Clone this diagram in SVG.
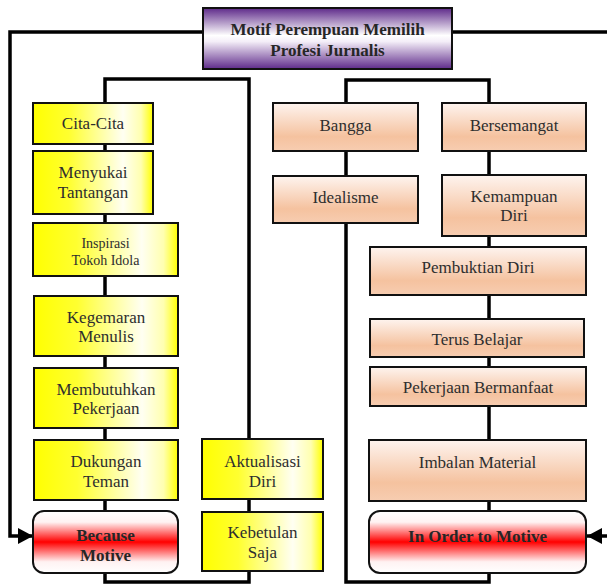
<svg xmlns="http://www.w3.org/2000/svg" width="607" height="584" viewBox="0 0 607 584">
<defs>
<linearGradient id="gPurple" x1="0" y1="0" x2="0" y2="1">
<stop offset="0" stop-color="#5e2a8a"/>
<stop offset="0.45" stop-color="#ffffff"/>
<stop offset="0.55" stop-color="#f4eef8"/>
<stop offset="1" stop-color="#5e2a8a"/>
</linearGradient>
<linearGradient id="gYellow" x1="0" y1="0" x2="1" y2="0">
<stop offset="0" stop-color="#ffff00"/>
<stop offset="0.3" stop-color="#ffff30"/>
<stop offset="0.75" stop-color="#fffff2"/>
<stop offset="0.9" stop-color="#ffffb0"/>
<stop offset="1" stop-color="#ffff00"/>
</linearGradient>
<linearGradient id="gPeach" x1="0" y1="0" x2="0" y2="1">
<stop offset="0" stop-color="#fef4ef"/>
<stop offset="0.7" stop-color="#f5c29f"/>
<stop offset="1" stop-color="#f7cdb1"/>
</linearGradient>
<linearGradient id="gRed" x1="0" y1="0" x2="0" y2="1">
<stop offset="0" stop-color="#ffffff"/>
<stop offset="0.18" stop-color="#fff2f2"/>
<stop offset="0.5" stop-color="#ff0000"/>
<stop offset="0.82" stop-color="#fff2f2"/>
<stop offset="1" stop-color="#ffffff"/>
</linearGradient>
<marker id="arr" markerWidth="16" markerHeight="16" refX="15" refY="8" orient="auto" markerUnits="userSpaceOnUse">
<path d="M0,0 L15,8 L0,16 Z" fill="#000"/>
</marker>
</defs>
<style>
.ln{fill:none;stroke:#000;stroke-width:3.5}
.box{stroke:#111;stroke-width:2}
.y{fill:url(#gYellow)}
.p{fill:url(#gPeach)}
.r{fill:url(#gRed)}
.t{fill:url(#gPurple)}
text{font-family:"Liberation Serif","Times New Roman",serif;font-size:17px;fill:#2e2e2e;text-anchor:middle}
.b{font-weight:bold;fill:#262626}
.s{font-size:14px}
</style>
<g id="connectors">
<path class="ln" d="M203,32 H10 V536 H33" marker-end="url(#arr)"/>
<path class="ln" d="M452,32 H607"/>
<path class="ln" d="M607,536 H587" marker-end="url(#arr)"/>
<rect class="ln" x="105" y="79" width="144" height="503"/>
<rect class="ln" x="346" y="80" width="143" height="502"/>
</g>
<g id="title"><rect class="box t" x="203" y="8" width="249" height="61"/><text class="b" x="327.5" y="35">Motif Perempuan Memilih</text><text class="b" x="327.5" y="56">Profesi Jurnalis</text></g>
<g id="cita"><rect class="box y" x="33" y="103" width="120" height="41"/><text x="93" y="129">Cita-Cita</text></g>
<g id="menyukai"><rect class="box y" x="33" y="151" width="120" height="63"/><text x="93" y="178">Menyukai</text><text x="93" y="198">Tantangan</text></g>
<g id="inspirasi"><rect class="box y" x="33" y="223" width="145" height="53"/><text class="s" x="105.5" y="248">Inspirasi</text><text class="s" x="105.5" y="265">Tokoh Idola</text></g>
<g id="kegemaran"><rect class="box y" x="34" y="296" width="144" height="60"/><text x="106" y="323">Kegemaran</text><text x="106" y="342">Menulis</text></g>
<g id="membutuhkan"><rect class="box y" x="34" y="368" width="144" height="60"/><text x="106" y="395">Membutuhkan</text><text x="106" y="414">Pekerjaan</text></g>
<g id="dukungan"><rect class="box y" x="34" y="440" width="144" height="60"/><text x="106" y="467">Dukungan</text><text x="106" y="487">Teman</text></g>
<g id="because"><rect class="box r" x="33" y="511" width="145" height="62" rx="11"/><text class="b" x="105.5" y="541">Because</text><text class="b" x="105.5" y="561">Motive</text></g>
<g id="aktualisasi"><rect class="box y" x="202" y="439" width="121" height="60"/><text x="262.5" y="467">Aktualisasi</text><text x="262.5" y="487">Diri</text></g>
<g id="kebetulan"><rect class="box y" x="202" y="512" width="121" height="59"/><text x="262.5" y="538">Kebetulan</text><text x="262.5" y="558">Saja</text></g>
<g id="bangga"><rect class="box p" x="273" y="103" width="145" height="48"/><text x="345.5" y="131">Bangga</text></g>
<g id="bersemangat"><rect class="box p" x="442" y="103" width="144" height="48"/><text x="514" y="131">Bersemangat</text></g>
<g id="idealisme"><rect class="box p" x="273" y="176" width="145" height="47"/><text x="345.5" y="203">Idealisme</text></g>
<g id="kemampuan"><rect class="box p" x="442" y="175" width="144" height="61"/><text x="514" y="202">Kemampuan</text><text x="514" y="221">Diri</text></g>
<g id="pembuktian"><rect class="box p" x="370" y="247" width="216" height="48"/><text x="478" y="273">Pembuktian Diri</text></g>
<g id="terus"><rect class="box p" x="370" y="319" width="214" height="38"/><text x="477" y="345">Terus Belajar</text></g>
<g id="pekerjaan"><rect class="box p" x="370" y="367" width="216" height="39"/><text x="478" y="393">Pekerjaan Bermanfaat</text></g>
<g id="imbalan"><rect class="box p" x="369" y="440" width="217" height="61"/><text x="477.5" y="468">Imbalan Material</text></g>
<g id="inorder"><rect class="box r" x="369" y="511" width="217" height="62" rx="11"/><text class="b" x="477.5" y="542">In Order to Motive</text></g>
</svg>
